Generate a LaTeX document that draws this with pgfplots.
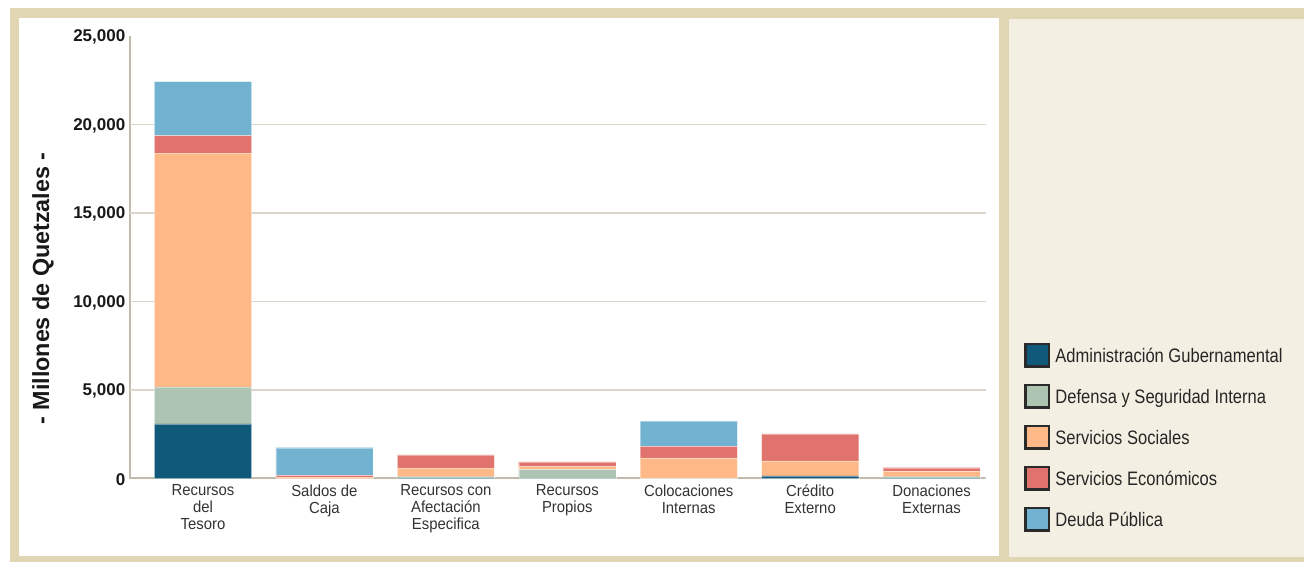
\documentclass[border=0pt]{standalone}
\usepackage{fontspec}
\setmainfont{Liberation Sans}
\newfontfamily\catfont{Liberation Sans}[FakeStretch=0.93]
\newfontfamily\legfont{Liberation Sans}[FakeStretch=0.85]
\usepackage{pgfplots}
\usepackage{pgfplotstable}
\pgfplotsset{compat=1.18}
\definecolor{admin}{HTML}{10597B}
\definecolor{defensa}{HTML}{ADC4B3}
\definecolor{sociales}{HTML}{FFB888}
\definecolor{econ}{HTML}{E0736D}
\definecolor{deuda}{HTML}{70B2CF}
\definecolor{beige}{HTML}{E0D6B3}
\definecolor{cream}{HTML}{F3F0E3}
\definecolor{gridc}{HTML}{DCD6CA}
\definecolor{axisc}{HTML}{C2BBAB}
\definecolor{legborder}{HTML}{2A2A2A}

\pgfplotstableread{
x admin defensa sociales econ deuda
0 3080 2090 13205 995 3050
1 0 0 80 90 1570
2 40 60 480 760 0
3 10 500 190 245 0
4 0 10 1160 640 1435
5 150 0 850 1525 0
6 30 70 300 210 0
}\datatable

\begin{document}
\begin{tikzpicture}
\useasboundingbox (0,0) rectangle (978pt,421.5pt);
\fill[beige] (7.5pt,0) rectangle (978pt,415.5pt);
\fill[white] (14.25pt,4.5pt) rectangle (749.25pt,408pt);
\fill[cream] (756.75pt,3.75pt) rectangle (978pt,407.25pt);
\begin{axis}[
  at={(97.5pt,62.625pt)}, anchor=south west,
  scale only axis, width=641.8pt, height=331.9pt,
  xmin=-0.601, xmax=6.446, ymin=0, ymax=25000,
  ybar stacked, bar width=0.8,
  xtick={0,1,2,3,4,5,6},
  xticklabels={{Recursos\\del\\Tesoro},{Saldos de\\Caja},{Recursos con\\Afectación\\Especifica},{Recursos\\Propios},{Colocaciones\\Internas},{Crédito\\Externo},{Donaciones\\Externas}},
  ytick={0,5000,10000,15000,20000,25000},
  extra y ticks={5000,10000,15000,20000},
  extra y tick labels={},
  extra y tick style={grid=major, major grid style={draw=gridc, line width=1.1pt}},
  axis lines*=left,
  x axis line style={draw=none},
  y axis line style={draw=axisc, line width=1.1pt},
  major tick length=0pt, tick style={draw=none},
  scaled y ticks=false,
  yticklabel style={font=\bfseries\fontsize{12.75}{14}\selectfont, text=black!90, yshift=-1pt},
  xticklabel style={font=\catfont\fontsize{12}{12.75}\selectfont, align=center, text=black!80, yshift=-1pt},
  ylabel={- Millones de Quetzales -},
  ylabel style={at={(axis description cs:-0.1017,0.4294)}, anchor=center, rotate=0, font=\bfseries\fontsize{17.5}{20}\selectfont, text=black!90},
  /pgf/number format/1000 sep={,},
  /pgf/number format/assume math mode=true,
  legend style={at={(axis description cs:1.0448,0.3069)}, anchor=north west, draw=none, fill=none, inner sep=0pt, outer sep=0pt, row sep=12.1pt, column sep=4pt, nodes={inner sep=0pt, outer sep=0pt, font=\legfont\fontsize{14.6}{16}\selectfont, text=black!85}},
  legend cell align=left,
  legpatch/.style={legend image code/.code={\draw[##1, draw=legborder, draw opacity=1, line width=1.9pt] (0.95pt,-7.7pt) rectangle (18.55pt,9.1pt);}},
]
\addplot[fill=admin, draw=white, draw opacity=0.4, line width=0.3pt, legpatch] table[x=x,y=admin]{\datatable};
\addlegendentry{Administración Gubernamental}
\addplot[fill=defensa, draw=white, draw opacity=0.4, line width=0.3pt, legpatch] table[x=x,y=defensa]{\datatable};
\addlegendentry{Defensa y Seguridad Interna}
\addplot[fill=sociales, draw=white, draw opacity=0.4, line width=0.3pt, legpatch] table[x=x,y=sociales]{\datatable};
\addlegendentry{Servicios Sociales}
\addplot[fill=econ, draw=white, draw opacity=0.4, line width=0.3pt, legpatch] table[x=x,y=econ]{\datatable};
\addlegendentry{Servicios Económicos}
\addplot[fill=deuda, draw=white, draw opacity=0.4, line width=0.3pt, legpatch] table[x=x,y=deuda]{\datatable};
\addlegendentry{Deuda Pública}
\draw[axisc, line width=2.2pt] (rel axis cs:0,0) -- (rel axis cs:1,0);
\end{axis}
\end{tikzpicture}
\end{document}
